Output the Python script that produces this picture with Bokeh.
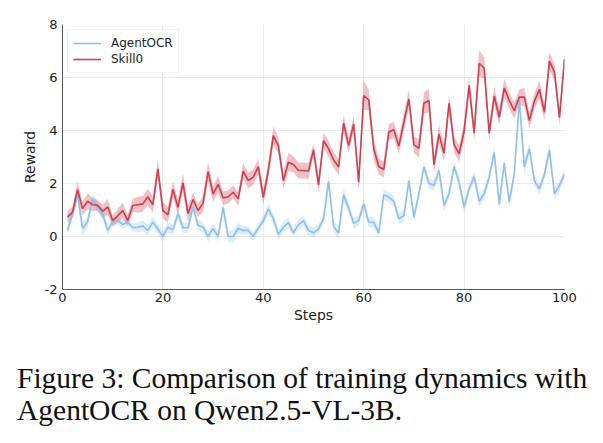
from bokeh.plotting import figure
from bokeh.layouts import column
from bokeh.models import FixedTicker, Legend, LegendItem, ColumnDataSource, Div
from bokeh.embed import file_html
from bokeh.resources import INLINE

steps = list(range(1, 101))

skill0 = [0.73, 0.92, 1.77, 1.05, 1.33, 1.2, 1.18, 0.95, 1.12, 0.6,
          0.78, 0.98, 0.6, 1.17, 1.2, 1.23, 1.5, 1.2, 2.55, 0.98,
          0.82, 1.78, 1.1, 2.02, 0.86, 1.4, 0.98, 1.25, 2.45, 1.6,
          1.97, 1.45, 1.5, 1.67, 1.42, 2.47, 2.11, 2.24, 2.64, 1.48,
          2.49, 3.81, 3.43, 2.11, 2.8, 2.72, 2.49, 2.49, 2.47, 3.27,
          1.95, 3.62, 3.31, 2.89, 2.62, 4.28, 3.43, 4.25, 2.05, 5.32,
          5.16, 3.31, 2.64, 2.53, 3.94, 4.03, 3.41, 4.31, 5.19, 3.46,
          3.33, 5.03, 5.13, 2.7, 3.87, 3.14, 5.03, 3.47, 3.12, 3.97,
          5.7, 3.9, 6.54, 6.35, 3.9, 5.3, 4.5, 5.6, 5.13, 4.75,
          5.26, 5.26, 4.38, 5.1, 5.55, 4.69, 6.62, 6.2, 4.48, 6.7]

agentocr = [0.23, 0.85, 1.6, 0.3, 0.55, 1.42, 1.1, 0.85, 0.23, 0.55,
            0.6, 0.45, 0.55, 0.33, 0.35, 0.4, 0.23, 0.54, 0.28, 0.0,
            0.35, 0.25, 0.86, 0.33, 0.33, 1.12, 0.42, 0.35, 0.0, 0.3,
            0.0, 1.1, 0.0, 0.0, 0.31, 0.23, 0.23, 0.0, 0.31, 0.6,
            1.04, 0.67, 0.08, 0.35, 0.52, 0.14, 0.44, 0.6, 0.23, 0.14,
            0.29, 0.67, 2.08, 0.38, 0.13, 1.57, 1.07, 0.5, 0.6, 1.23,
            0.54, 0.54, 0.13, 1.58, 1.48, 1.33, 0.67, 0.79, 2.11, 0.73,
            1.61, 2.62, 2.01, 1.92, 2.49, 1.17, 1.61, 2.64, 2.05, 1.11,
            1.8, 2.26, 1.33, 1.61, 2.24, 3.18, 1.21, 2.78, 1.3, 2.36,
            5.15, 2.62, 3.31, 2.11, 1.8, 2.34, 3.27, 1.61, 1.92, 2.36]

skill0_err = [0.25, 0.2, 0.3, 0.25, 0.3, 0.25, 0.2, 0.25, 0.3, 0.2,
              0.25, 0.3, 0.2, 0.25, 0.3, 0.3, 0.3, 0.3, 0.35, 0.3,
              0.3, 0.3, 0.3, 0.35, 0.3, 0.25, 0.25, 0.3, 0.35, 0.3,
              0.3, 0.25, 0.25, 0.25, 0.25, 0.3, 0.3, 0.3, 0.3, 0.3,
              0.3, 0.35, 0.3, 0.3, 0.35, 0.3, 0.3, 0.3, 0.3, 0.25,
              0.3, 0.3, 0.3, 0.3, 0.3, 0.3, 0.3, 0.3, 0.3, 0.55,
              0.4, 0.4, 0.3, 0.3, 0.3, 0.3, 0.3, 0.35, 0.35, 0.3,
              0.35, 0.4, 0.45, 0.3, 0.35, 0.3, 0.35, 0.3, 0.3, 0.35,
              0.35, 0.3, 0.5, 0.4, 0.3, 0.35, 0.3, 0.35, 0.3, 0.3,
              0.3, 0.35, 0.3, 0.3, 0.35, 0.3, 0.35, 0.3, 0.3, 0.3]

agentocr_err = [0.2, 0.2, 0.25, 0.25, 0.2, 0.2, 0.2, 0.2, 0.2, 0.2,
                0.15, 0.15, 0.15, 0.15, 0.2, 0.2, 0.2, 0.2, 0.2, 0.2,
                0.2, 0.2, 0.2, 0.2, 0.2, 0.2, 0.2, 0.2, 0.2, 0.2,
                0.2, 0.25, 0.2, 0.25, 0.2, 0.15, 0.15, 0.15, 0.2, 0.2,
                0.2, 0.2, 0.2, 0.2, 0.2, 0.15, 0.2, 0.2, 0.2, 0.2,
                0.15, 0.2, 0.3, 0.2, 0.25, 0.25, 0.2, 0.2, 0.2, 0.2,
                0.2, 0.2, 0.2, 0.2, 0.2, 0.2, 0.2, 0.25, 0.25, 0.2,
                0.2, 0.2, 0.2, 0.2, 0.2, 0.2, 0.2, 0.2, 0.2, 0.2,
                0.2, 0.2, 0.2, 0.2, 0.2, 0.25, 0.25, 0.2, 0.2, 0.2,
                0.3, 0.25, 0.2, 0.2, 0.2, 0.2, 0.25, 0.2, 0.2, 0.2]

x_ticks = [0, 20, 40, 60, 80, 100]
y_ticks = [-2, 0, 2, 4, 6, 8]
y_tick_labels = {-2: "-2", 0: "0", 2: "2", 4: "4", 6: "6", 8: "8"}

caption_lines = ["Figure 3: Comparison of training dynamics with",
                 "AgentOCR on Qwen2.5-VL-3B."]

blue = "#8ec0ea"
red = "#cf3f4e"

src = ColumnDataSource(dict(
    x=steps,
    s=skill0, s_lo=[v - e for v, e in zip(skill0, skill0_err)], s_hi=[v + e for v, e in zip(skill0, skill0_err)],
    a=agentocr, a_lo=[v - e for v, e in zip(agentocr, agentocr_err)], a_hi=[v + e for v, e in zip(agentocr, agentocr_err)],
))

p = figure(width=603, height=335, x_range=(0, 100), y_range=(-2, 8),
           output_backend="svg", toolbar_location=None,
           min_border_left=62, min_border_right=39, min_border_top=24, min_border_bottom=46)
p.outline_line_color = None
p.background_fill_color = "white"

p.varea(x="x", y1="a_lo", y2="a_hi", source=src, fill_color=blue, fill_alpha=0.3)
p.varea(x="x", y1="s_lo", y2="s_hi", source=src, fill_color=red, fill_alpha=0.33)
la = p.line(x="x", y="a", source=src, line_color=blue, line_width=1.6)
ls = p.line(x="x", y="s", source=src, line_color=red, line_width=1.6)

legend = Legend(items=[LegendItem(label="AgentOCR", renderers=[la]),
                       LegendItem(label="Skill0", renderers=[ls])],
                location="top_left")
legend.label_text_font = "DejaVu Sans"
legend.label_text_font_size = "12px"
legend.label_text_color = "#222222"
legend.border_line_color = "#e6e6e6"
legend.background_fill_alpha = 0.9
legend.margin = 5
legend.padding = 5
legend.spacing = 0
legend.glyph_width = 28
legend.glyph_height = 16
legend.label_height = 16
legend.label_standoff = 10
p.add_layout(legend)

for ax in (p.xaxis[0], p.yaxis[0]):
    ax.major_label_text_font = "DejaVu Sans"
    ax.major_label_text_font_size = "13px"
    ax.major_label_text_color = "#222222"
    ax.axis_label_text_font = "DejaVu Sans"
    ax.axis_label_text_font_size = "14px"
    ax.axis_label_text_font_style = "normal"
    ax.axis_label_text_color = "#222222"
    ax.axis_line_color = "#555555"
    ax.major_tick_out = 0
    ax.major_tick_in = 0
    ax.minor_tick_out = 0
    ax.minor_tick_in = 0

p.xaxis.ticker = FixedTicker(ticks=x_ticks)
p.yaxis.ticker = FixedTicker(ticks=y_ticks)
p.yaxis.major_label_overrides = y_tick_labels
p.xaxis.axis_label = "Steps"
p.yaxis.axis_label = "Reward"
p.xaxis.major_label_standoff = 3
p.yaxis.major_label_standoff = 5
p.xaxis.axis_label_standoff = 2
p.yaxis.axis_label_standoff = 4

p.xgrid.ticker = FixedTicker(ticks=x_ticks)
p.ygrid.ticker = FixedTicker(ticks=y_ticks)
p.grid.grid_line_color = "#ebebeb"
p.grid.grid_line_width = 1

cap = Div(text="<br>".join(caption_lines), width=603, height=108,
          styles={"font-family": "'Liberation Serif', serif", "font-size": "29.5px",
                  "line-height": "32px", "color": "#111111", "white-space": "nowrap",
                  "padding-top": "27px", "padding-left": "17px", "margin": "0",
                  "box-sizing": "border-box", "background-color": "white"})

layout = column(p, cap, spacing=0)
open("out.html", "w").write(file_html(layout, INLINE))
